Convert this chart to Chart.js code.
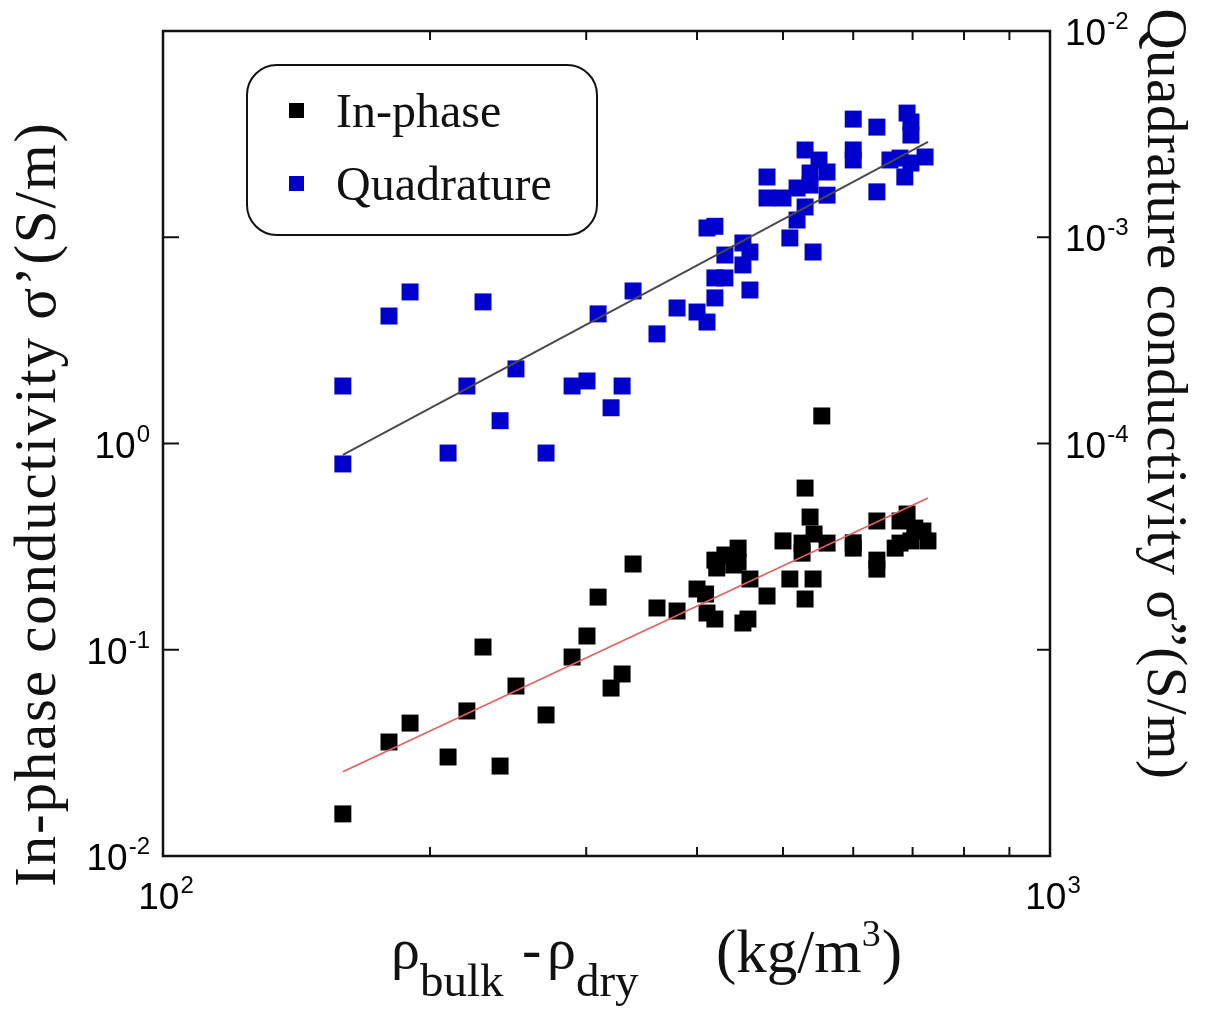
<!DOCTYPE html>
<html>
<head>
<meta charset="utf-8">
<script src="https://cdn.jsdelivr.net/npm/chart.js@4.4.1/dist/chart.umd.min.js"></script>
<style>
  html, body { margin: 0; padding: 0; background: #fff; }
  canvas { display: block; }
</style>
</head>
<body>
<canvas id="c" width="1210" height="1014"></canvas>
<script>
// density difference (kg/m3) and conductivities
const inPhaseX = [159.5, 179.8, 189.9, 209.6, 220.1, 229.5, 239.9, 250, 270.3, 289.2, 300.6, 309.4, 320, 329.3,
  338.8, 360.5, 379.8, 400, 409, 410.5, 419, 419, 421, 430, 440, 445, 445, 450.6, 456.5, 458.9, 479.7, 500, 509,
  525.4, 525.4, 529.5, 529.5, 536.4, 540.6, 542, 553, 560.6, 600, 600, 638, 638, 638, 677.5, 690, 704, 677.5, 697,
  719, 728.5, 669];
const inPhaseY = [0.016, 0.0357, 0.0441, 0.0302, 0.0505, 0.1031, 0.0273, 0.0667, 0.0483, 0.0922, 0.1166, 0.18, 0.0652, 0.0763,
  0.2605, 0.1594, 0.1541, 0.197, 0.1863, 0.1507, 0.1409, 0.272, 0.2491, 0.288, 0.2576, 0.311, 0.2665, 0.1348, 0.1409, 0.2203,
  0.1822, 0.337, 0.2203, 0.329, 0.294, 0.1762, 0.608, 0.44, 0.2203, 0.364, 1.36, 0.329, 0.311, 0.33, 0.421, 0.272, 0.246,
  0.421, 0.455, 0.389, 0.329, 0.337, 0.3765, 0.337, 0.311];

const quadX = [159.5, 159.5, 179.8, 189.9, 209.6, 220.1, 229.5, 239.9, 250, 270.3, 289.2, 300.6, 320, 329.3, 309.4,
  338.8, 360.5, 379.8, 400, 410.5, 410.5, 419, 419, 419, 430, 430, 450.6, 450.6, 458.9, 458.9, 479.7, 479.7, 500,
  518.6, 509, 518.6, 529.5, 529.5, 540.6, 549, 536.4, 536.4, 560.6, 560.6, 600, 600, 600, 638, 638, 660, 677.5, 686,
  690, 697, 697, 697, 723];
const quadY = [1.9e-4, 7.96e-5, 4.15e-4, 5.43e-4, 8.99e-5, 1.9e-4, 4.86e-4, 1.29e-4, 2.3e-4, 8.99e-5, 1.9e-4, 2.01e-4,
  1.49e-4, 1.9e-4, 4.25e-4, 5.49e-4, 3.4e-4, 4.54e-4, 4.34e-4, 3.88e-4, 1.109e-3, 1.13e-3, 6.35e-4, 5.08e-4, 8.2e-4,
  6.35e-4, 9.38e-4, 7.34e-4, 5.55e-4, 8.48e-4, 1.959e-3, 1.55e-3, 1.55e-3, 1.733e-3, 9.92e-4, 1.212e-3, 1.402e-3,
  2.649e-3, 8.48e-4, 2.368e-3, 2.049e-3, 1.79e-3, 2.072e-3, 1.6e-3, 3.74e-3, 2.65e-3, 2.37e-3, 3.42e-3, 1.66e-3,
  2.37e-3, 2.42e-3, 1.96e-3, 4.0e-3, 3.62e-3, 3.13e-3, 2.29e-3, 2.45e-3];

// power-law fits, end points
const fitX = [159.5, 728.5];
const inPhaseFitY = [0.0256, 0.544];
const quadFitY = [8.8e-5, 2.9e-3];

// axis ticks
const xMinorTicks = [200, 300, 400, 500, 600, 700, 800, 900];
const xLabelTicks = [100, 1000];
const xLabelExps = ['2', '3'];
const leftTicks = [0.1, 1, 10];
const leftLabelTicks = [0.01, 0.1, 1];
const leftLabelExps = ['-2', '-1', '0'];
const rightTicks = [1e-5, 1e-4, 1e-3];
const rightLabelTicks = [1e-4, 1e-3, 1e-2];
const rightLabelExps = ['-4', '-3', '-2'];

const BLUE = '#0000cc';
const SANS = '"Liberation Sans", Arial, sans-serif';
const SERIF = '"Liberation Serif", "Times New Roman", serif';

const pts = (xs, ys) => xs.map((x, i) => ({ x, y: ys[i] }));

function drawPow(ctx, exp, x, y, align) {
  ctx.font = `37px ${SANS}`;
  const wb = ctx.measureText('10').width;
  ctx.font = `24px ${SANS}`;
  const we = ctx.measureText(exp).width;
  const w = wb + we + 1;
  const x0 = align === 'right' ? x - w : align === 'center' ? x - w / 2 : x;
  ctx.textAlign = 'left';
  ctx.textBaseline = 'alphabetic';
  ctx.fillStyle = '#000';
  ctx.font = `37px ${SANS}`;
  ctx.fillText('10', x0, y);
  ctx.font = `24px ${SANS}`;
  ctx.fillText(exp, x0 + wb + 1, y - 16);
}

// sequence of [text, fontPx, dy, gap] pieces drawn left to right
function drawRuns(ctx, runs, x, y) {
  let cx = x;
  for (const [t, size, dy, gap] of runs) {
    ctx.font = `${size}px ${SERIF}`;
    ctx.fillText(t, cx, y + dy);
    cx += ctx.measureText(t).width + (gap || 0);
  }
}

const framePlugin = {
  id: 'frameAndText',
  afterDraw(chart) {
    const { ctx, chartArea: a, scales } = chart;
    const xs = scales.x, yl = scales.y, yr = scales.y2;
    ctx.save();

    // frame
    ctx.strokeStyle = '#111';
    ctx.lineWidth = 2.5;
    ctx.strokeRect(a.left, a.top, a.right - a.left, a.bottom - a.top);

    // inward tick marks
    ctx.lineWidth = 2;
    ctx.beginPath();
    xMinorTicks.forEach((v) => {
      const px = xs.getPixelForValue(v);
      ctx.moveTo(px, a.bottom); ctx.lineTo(px, a.bottom - 9);
      ctx.moveTo(px, a.top); ctx.lineTo(px, a.top + 9);
    });
    leftTicks.forEach((v) => {
      const py = yl.getPixelForValue(v);
      ctx.moveTo(a.left, py); ctx.lineTo(a.left + 16, py);
    });
    rightTicks.forEach((v) => {
      const py = yr.getPixelForValue(v);
      ctx.moveTo(a.right, py); ctx.lineTo(a.right - 13, py);
    });
    ctx.stroke();

    // tick labels
    xLabelTicks.forEach((v, i) => drawPow(ctx, xLabelExps[i], xs.getPixelForValue(v) + 3, 909, 'center'));
    leftLabelTicks.forEach((v, i) => drawPow(ctx, leftLabelExps[i], 150, yl.getPixelForValue(v) + 14, 'right'));
    rightLabelTicks.forEach((v, i) => drawPow(ctx, rightLabelExps[i], 1065, yr.getPixelForValue(v) + 14, 'left'));

    // axis titles
    ctx.fillStyle = '#111';
    ctx.textBaseline = 'alphabetic';
    ctx.save();
    ctx.translate(55, 504);
    ctx.rotate(-Math.PI / 2);
    ctx.textAlign = 'center';
    ctx.font = `59px ${SERIF}`;
    ctx.letterSpacing = '1.8px';
    ctx.fillText('In-phase conductivity σ’(S/m)', 0, 0);
    ctx.restore();

    ctx.save();
    ctx.translate(1148, 394);
    ctx.rotate(Math.PI / 2);
    ctx.textAlign = 'center';
    ctx.font = `57px ${SERIF}`;
    ctx.letterSpacing = '0.5px';
    ctx.fillText('Quadrature conductivity σ”(S/m)', 0, 0);
    ctx.restore();

    ctx.textAlign = 'left';
    drawRuns(ctx, [['ρ', 58, 0, 0], ['bulk', 47, 28, 0]], 391, 968);
    drawRuns(ctx, [['-', 58, 0, 0]], 522, 968);
    drawRuns(ctx, [['ρ', 58, 0, 0], ['dry', 47, 28, 0]], 547, 968);
    drawRuns(ctx, [['(kg/m', 61, 0, 0], ['3', 38, -26, 1], [')', 61, 0, 0]], 716, 972);

    // legend
    const lx = 247, ly = 65, lw = 350, lh = 170, r = 30;
    ctx.beginPath();
    ctx.moveTo(lx + r, ly);
    ctx.arcTo(lx + lw, ly, lx + lw, ly + lh, r);
    ctx.arcTo(lx + lw, ly + lh, lx, ly + lh, r);
    ctx.arcTo(lx, ly + lh, lx, ly, r);
    ctx.arcTo(lx, ly, lx + lw, ly, r);
    ctx.closePath();
    ctx.fillStyle = '#fff';
    ctx.fill();
    ctx.lineWidth = 2;
    ctx.strokeStyle = '#111';
    ctx.stroke();

    ctx.fillStyle = '#000';
    ctx.fillRect(289, 103, 15, 15);
    ctx.fillStyle = BLUE;
    ctx.fillRect(289, 176, 15, 15);
    ctx.fillStyle = '#111';
    ctx.font = `48px ${SERIF}`;
    ctx.fillText('In-phase', 336, 127);
    ctx.fillText('Quadrature', 336, 200);

    ctx.restore();
  }
};

new Chart(document.getElementById('c'), {
  type: 'scatter',
  data: {
    datasets: [
      {
        label: 'In-phase fit',
        data: pts(fitX, inPhaseFitY),
        yAxisID: 'y',
        showLine: true,
        borderColor: '#e4605f',
        borderWidth: 1.6,
        pointRadius: 0,
        order: 0
      },
      {
        label: 'Quadrature fit',
        data: pts(fitX, quadFitY),
        yAxisID: 'y2',
        showLine: true,
        borderColor: '#4a4a4a',
        borderWidth: 2,
        pointRadius: 0,
        order: 0
      },
      {
        label: 'In-phase',
        data: pts(inPhaseX, inPhaseY),
        yAxisID: 'y',
        pointStyle: 'rect',
        pointRadius: 12,
        pointBackgroundColor: '#000',
        pointBorderWidth: 0,
        order: 1
      },
      {
        label: 'Quadrature',
        data: pts(quadX, quadY),
        yAxisID: 'y2',
        pointStyle: 'rect',
        pointRadius: 12,
        pointBackgroundColor: BLUE,
        pointBorderWidth: 0,
        order: 1
      }
    ]
  },
  options: {
    responsive: false,
    devicePixelRatio: 1,
    animation: false,
    layout: { padding: { left: 163, right: 160, top: 31, bottom: 158 } },
    plugins: { legend: { display: false }, tooltip: { enabled: false } },
    scales: {
      x: { type: 'logarithmic', min: 100, max: 1000, display: false },
      y: { type: 'logarithmic', min: 0.01, max: 100, display: false, position: 'left' },
      y2: { type: 'logarithmic', min: 1e-6, max: 1e-2, display: false, position: 'right' }
    }
  },
  plugins: [framePlugin]
});
</script>
</body>
</html>
